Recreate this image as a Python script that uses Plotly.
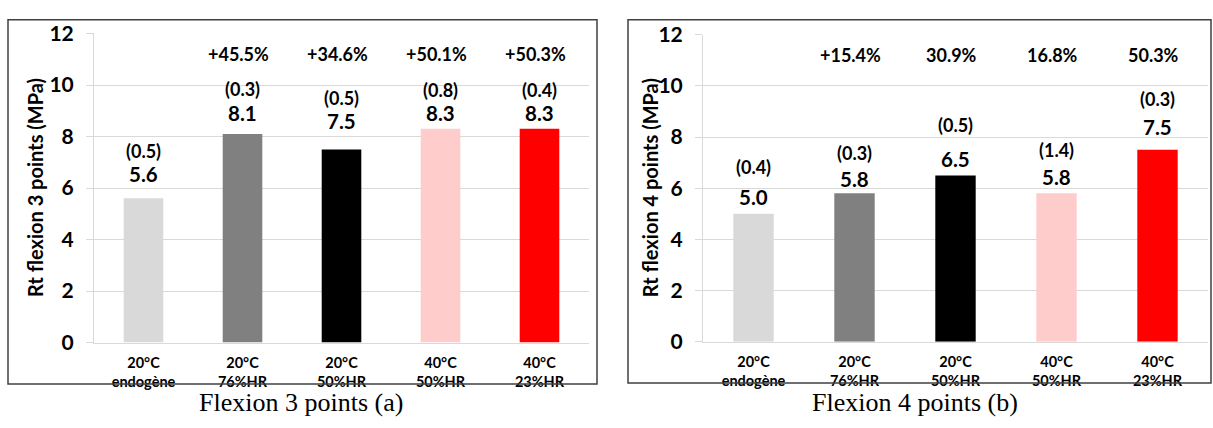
import plotly.graph_objects as go

# Conditions (temperature / relative humidity)
categories = ["20°C<br>endogène", "20°C<br>76%HR", "20°C<br>50%HR", "40°C<br>50%HR", "40°C<br>23%HR"]
bar_colors = ["#d9d9d9", "#808080", "#000000", "#ffcccc", "#ff0000"]

# Flexion 3 points (a)
rt3_mean = [5.6, 8.1, 7.5, 8.3, 8.3]
rt3_std = ["(0.5)", "(0.3)", "(0.5)", "(0.8)", "(0.4)"]
rt3_gain = ["", "+45.5%", "+34.6%", "+50.1%", "+50.3%"]

# Flexion 4 points (b)
rt4_mean = [5.0, 5.8, 6.5, 5.8, 7.5]
rt4_std = ["(0.4)", "(0.3)", "(0.5)", "(1.4)", "(0.3)"]
rt4_gain = ["", "+15.4%", "30.9%", "16.8%", "50.3%"]

y_ticks = [0, 2, 4, 6, 8, 10, 12]

# label offsets above each bar top (pixels): value, std-dev
shift3 = [(24, 47), (21, 45), (28, 51), (16, 39), (16, 39)]
shift4 = [(17, 47), (14, 40), (16, 50), (16, 43), (23, 51)]

W, H = 1213, 428
FONT = "Lato"
GRID = "#d9d9d9"

fig = go.Figure()

panels = [
    dict(x="x", y="y", mean=rt3_mean, std=rt3_std, gain=rt3_gain, shift=shift3,
         xdom=[94 / W, 589 / W], ydom=[79 / H, 407.3 / H],
         title="Rt flexion 3 points (MPa)", title_x=35,
         box=(8, 597, 6, 393), caption="Flexion 3 points (a)", cap_x=301),
    dict(x="x2", y="y2", mean=rt4_mean, std=rt4_std, gain=rt4_gain, shift=shift4,
         xdom=[703 / W, 1208 / W], ydom=[80 / H, 406 / H],
         title="Rt flexion 4 points (MPa)", title_x=650,
         box=(628, 1211, 6, 392), caption="Flexion 4 points (b)", cap_x=915),
]

annotations = []
shapes = []
for i, p in enumerate(panels):
    idx = list(range(len(categories)))
    fig.add_trace(go.Bar(
        x=idx, y=p["mean"], xaxis=p["x"], yaxis=p["y"],
        marker=dict(color=bar_colors, line=dict(width=0)),
        width=0.4, showlegend=False, hoverinfo="y",
    ))
    xref, yref = p["x"], p["y"]
    for j, v in enumerate(p["mean"]):
        sv, ss = p["shift"][j]
        annotations.append(dict(x=j, y=v, xref=xref, yref=yref, text=f"{v:.1f}",
                                showarrow=False, yshift=sv, yanchor="middle",
                                font=dict(family=FONT, size=20.5, color="#000000", weight="bold")))
        annotations.append(dict(x=j, y=v, xref=xref, yref=yref, text=p["std"][j],
                                showarrow=False, yshift=ss, yanchor="middle",
                                font=dict(family=FONT, size=18, color="#000000", weight="bold")))
        if p["gain"][j]:
            annotations.append(dict(x=j - 0.04, y=11.22, xref=xref, yref=yref, text=p["gain"][j],
                                    showarrow=False, yanchor="middle",
                                    font=dict(family=FONT, size=18, color="#000000", weight="bold")))
    # y-axis title
    y_mid = (p["ydom"][0] + p["ydom"][1]) / 2
    annotations.append(dict(x=p["title_x"] / W, y=y_mid, xref="paper", yref="paper",
                            text=p["title"], textangle=-90, showarrow=False,
                            xanchor="center", yanchor="middle",
                            font=dict(family=FONT, size=20, color="#000000", weight="bold")))
    # caption below the frame
    annotations.append(dict(x=p["cap_x"] / W, y=1 - 413 / H, xref="paper", yref="paper",
                            text=p["caption"], showarrow=False, xanchor="center", yanchor="middle",
                            font=dict(family="Liberation Serif", size=26, color="#000000")))
    x0, x1, y0, y1 = p["box"]
    shapes.append(dict(type="rect", xref="paper", yref="paper",
                       x0=x0 / W, x1=x1 / W, y0=1 - y1 / H, y1=1 - y0 / H,
                       line=dict(color="#404040", width=1.5), fillcolor="rgba(0,0,0,0)"))

    xa = dict(domain=p["xdom"], range=[-0.5, 4.5], tickmode="array",
              tickvals=list(range(len(categories))), ticktext=categories,
              showgrid=False, zeroline=False, showline=True, linecolor=GRID, linewidth=1,
              ticks="", ticklabelstandoff=7,
              tickfont=dict(family=FONT, size=14.5, color="#000000", weight="bold"),
              fixedrange=True)
    ya = dict(domain=p["ydom"], range=[0, 12], tickmode="array", tickvals=y_ticks,
              showgrid=True, gridcolor=GRID, gridwidth=1, zeroline=False,
              showline=True, linecolor=GRID, linewidth=1,
              ticks="outside", ticklen=7, tickcolor=GRID, tickwidth=1,
              ticklabelstandoff=8,
              tickfont=dict(family=FONT, size=21, color="#000000", weight="bold"),
              fixedrange=True)
    if i == 0:
        xa["anchor"] = "y"
        ya["anchor"] = "x"
        fig.update_layout(xaxis=xa, yaxis=ya)
    else:
        xa["anchor"] = "y2"
        ya["anchor"] = "x2"
        fig.update_layout(xaxis2=xa, yaxis2=ya)

fig.update_layout(
    width=W, height=H,
    margin=dict(l=0, r=0, t=0, b=0),
    paper_bgcolor="#ffffff", plot_bgcolor="#ffffff",
    annotations=annotations, shapes=shapes,
    bargap=0.6,
)

fig.write_html("out.html", config={"displayModeBar": False})
